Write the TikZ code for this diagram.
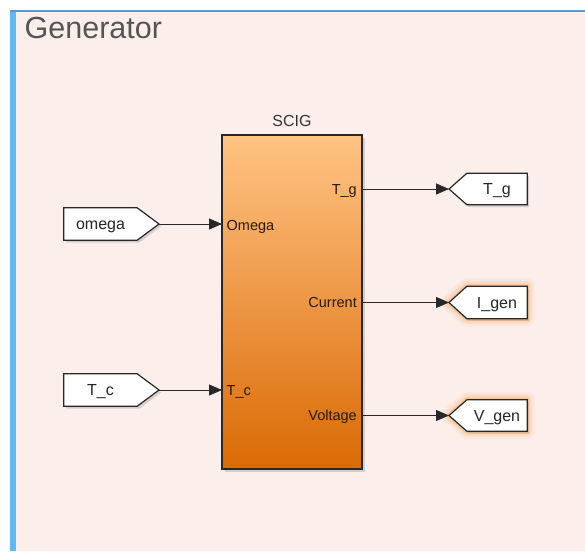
\documentclass[tikz,border=0pt]{standalone}
\usepackage{fontspec}
\setmainfont{Liberation Sans}
\usetikzlibrary{arrows.meta,shadows,backgrounds}

\definecolor{canvas}{RGB}{252,238,234}
\definecolor{framebar}{RGB}{96,184,245}
\definecolor{frametop}{RGB}{90,150,210}
\definecolor{titlegray}{RGB}{85,85,85}
\definecolor{blocktop}{RGB}{255,195,132}
\definecolor{blockbottom}{RGB}{218,106,4}
\definecolor{edge}{RGB}{40,40,40}
\definecolor{portink}{RGB}{40,25,10}
\definecolor{glow}{RGB}{240,145,50}

\pgfdeclarelayer{tags}
\pgfsetlayers{background,tags,main}

\tikzset{
  wire/.style={draw=edge, line width=1pt, -{Triangle[length=13pt,width=11pt]}},
  blockbox/.style={draw=edge, line width=1.5pt, shading=axis,
    top color=blocktop, bottom color=blockbottom,
    minimum width=140pt, minimum height=334pt, inner sep=0pt,
    drop shadow={shadow xshift=2.5pt, shadow yshift=-2.5pt, opacity=0.3}},
  tagbody/.style={draw=none, inner sep=0pt, minimum height=32pt,
    text height=11pt, text depth=0pt,
    font=\fontsize{16}{19}\selectfont, text=black!85},
  tagline/.style={draw=edge, line width=1.2pt, fill=white, line join=miter,
    drop shadow={shadow xshift=2pt, shadow yshift=-2.5pt, opacity=0.3}},
  tagglow/.style={
    preaction={draw=glow, line width=16pt, line join=round, opacity=0.07},
    preaction={draw=glow, line width=10pt, line join=round, opacity=0.13},
    preaction={draw=glow, line width=5pt, line join=round, opacity=0.25}},
  portlabel/.style={inner sep=0pt, text height=10.5pt, text depth=0pt,
    font=\fontsize{14.5}{17}\selectfont, text=portink},
}

\begin{document}
\begin{tikzpicture}[x=1pt,y=-1pt]
\useasboundingbox (0,0) rectangle (585,551);

% subsystem area with its frame
\begin{pgfonlayer}{background}
\fill[white] (0,0) rectangle (585,551);
\fill[canvas] (15,12) rectangle (585,551);
\fill[framebar] (10,10) rectangle (15,551);
\fill[frametop] (10,10) rectangle (585,12);
\draw[black!35, line width=0.8pt] (15.4,12) -- (15.4,551);
\end{pgfonlayer}
\node[anchor=base west, inner sep=0pt, font=\fontsize{30.5}{36}\selectfont,
      text=titlegray] (title) at (24.5,39) {Generator};

% machine block
\node[blockbox] (scig) at (292,302) {};
\node[anchor=base, inner sep=0pt, font=\fontsize{16}{19}\selectfont,
      text=black!80] (scigname) at (292,126) {SCIG};

% ports on the block
\coordinate (in-omega) at (222,224);
\coordinate (in-tc) at (222,390);
\coordinate (out-tg) at (362,189);
\coordinate (out-cur) at (362,302.5);
\coordinate (out-volt) at (362,415.5);
\node[portlabel, anchor=west] (lab-omega) at (226.5,225) {Omega};
\node[portlabel, anchor=west] (lab-tc) at (226.5,390) {T\_c};
\node[portlabel, anchor=east] (lab-tg) at (357,189) {T\_g};
\node[portlabel, anchor=east] (lab-cur) at (357,302.5) {Current};
\node[portlabel, anchor=east] (lab-volt) at (357,415.5) {Voltage};

% "from" tags on the left
\node[tagbody, minimum width=73pt] (omega) at (100.5,224) {omega};
\coordinate (omega-tip) at (159,224);
\node[tagbody, minimum width=73pt] (tc) at (100.5,390) {T\_c};
\coordinate (tc-tip) at (159,390);

% "goto" tags on the right
\node[tagbody, minimum width=60pt, minimum height=31pt] (tg) at (497,189) {T\_g};
\coordinate (tg-tip) at (449,189);
\node[tagbody, minimum width=60pt] (igen) at (497,302.5) {I\_gen};
\coordinate (igen-tip) at (449,302.5);
\node[tagbody, minimum width=60pt, minimum height=31pt] (vgen) at (497,415.5) {V\_gen};
\coordinate (vgen-tip) at (449,415.5);

% tag outlines, kept beneath their texts
\begin{pgfonlayer}{tags}
\draw[tagline] (omega.north west) -- (omega.north east) -- (omega-tip)
  -- (omega.south east) -- (omega.south west) -- cycle;
\draw[tagline] (tc.north west) -- (tc.north east) -- (tc-tip)
  -- (tc.south east) -- (tc.south west) -- cycle;
\draw[tagline] (tg.north east) -- (tg.north west) -- (tg-tip)
  -- (tg.south west) -- (tg.south east) -- cycle;
\draw[tagline, tagglow] (igen.north east) -- (igen.north west) -- (igen-tip)
  -- (igen.south west) -- (igen.south east) -- cycle;
\draw[tagline, tagglow] (vgen.north east) -- (vgen.north west) -- (vgen-tip)
  -- (vgen.south west) -- (vgen.south east) -- cycle;
\end{pgfonlayer}

% signal lines
\draw[wire] (omega-tip) -- (in-omega);
\draw[wire] (tc-tip) -- (in-tc);
\draw[wire] (out-tg) -- (tg-tip);
\draw[wire] (out-cur) -- (igen-tip);
\draw[wire] (out-volt) -- (vgen-tip);
\end{tikzpicture}
\end{document}
